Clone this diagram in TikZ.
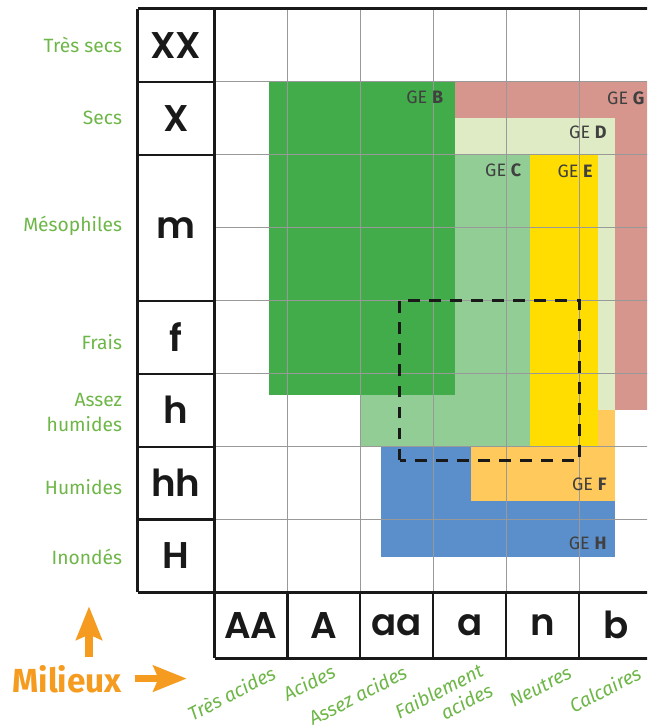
\documentclass[tikz,border=0pt]{standalone}
\usepackage{fontspec}
\setmainfont{Fira Sans}
\newfontfamily\lettrefont{Poppins SemiBold}
\usetikzlibrary{arrows.meta}

\definecolor{vertB}{RGB}{66,171,74}
\definecolor{vertC}{RGB}{145,205,148}
\definecolor{vertD}{RGB}{222,235,196}
\definecolor{jauneE}{RGB}{255,221,0}
\definecolor{orangeF}{RGB}{255,201,91}
\definecolor{roseG}{RGB}{214,150,141}
\definecolor{bleuH}{RGB}{91,143,203}
\definecolor{vertTexte}{RGB}{110,182,72}
\definecolor{orangeM}{RGB}{245,155,31}
\definecolor{grisGE}{RGB}{64,64,64}

\tikzset{
  grille/.style={draw=black!40, line width=0.6pt},
  cadre/.style={draw=black!90, line width=1.2pt},
  separ/.style={draw=black!90, line width=0.8pt},
  lettre/.style={font=\lettrefont\fontsize{14.5}{16}\selectfont, text=black!90},
  nomvert/.style={text=vertTexte, font=\fontsize{7.5}{9.6}\selectfont, align=right, anchor=east, inner sep=0pt},
  nomsol/.style={text=vertTexte, font=\itshape\fontsize{7.5}{8.4}\selectfont, align=right, anchor=east, inner sep=0pt, rotate=27},
  ge/.style={text=grisGE, font=\fontsize{7}{8}\selectfont, anchor=east, inner sep=0pt},
  fleche/.style={draw=orangeM, line width=2.9pt, -{Stealth[length=13pt,width=10pt,inset=2pt]}}
}

\begin{document}
\begin{tikzpicture}
    \useasboundingbox (-2.94,-1.83) rectangle (5.93,8.12);
    \clip (-2.94,-1.83) rectangle (5.93,8.12);

    %% Groupes ecologiques
    \fill[bleuH]   (2.28,0.48) rectangle (5.49,2);
    \fill[orangeF] (3.51,1.25) rectangle (5.49,2.5);
    \fill[roseG]   (3.29,2.5) rectangle (6.5,7);
    \fill[vertD]   (3.29,2.5) rectangle (5.49,6.5);
    \fill[vertC]   (2,2) rectangle (4.32,6);
    \fill[jauneE]  (4.32,2) rectangle (5.26,6);
    \fill[vertB]   (0.75,2.71) rectangle (3.29,7);

    %% Grille
    \draw[grille] (1,0) -- (1,8);
    \draw[grille] (2,0) -- (2,8);
    \draw[grille] (3,0) -- (3,8);
    \draw[grille] (4,0) -- (4,8);
    \draw[grille] (5,0) -- (5,8);
    \draw[grille] (6,0) -- (6,8);
    \draw[grille] (0,1) -- (6.5,1);
    \draw[grille] (0,2) -- (6.5,2);
    \draw[grille] (0,3) -- (6.5,3);
    \draw[grille] (0,4) -- (6.5,4);
    \draw[grille] (0,5) -- (6.5,5);
    \draw[grille] (0,6) -- (6.5,6);
    \draw[grille] (0,7) -- (6.5,7);

    %% Zone en pointilles
    \draw[black!90, line width=1.2pt, dash pattern=on 4.6pt off 3.6pt] (2.54,1.81) rectangle (5,4);

    %% Cadres
    \draw[cadre] (-1.05,8) -- (6.5,8);
    \draw[cadre] (-1.05,0) -- (6.5,0);
    \draw[cadre] (-1.05,0) -- (-1.05,8);
    \draw[cadre] (0,-0.9) -- (0,8);
    \draw[cadre] (0,-0.9) -- (6.5,-0.9);
    \draw[separ] (-1.05,1) -- (0,1);
    \draw[separ] (-1.05,2) -- (0,2);
    \draw[separ] (-1.05,3) -- (0,3);
    \draw[separ] (-1.05,4) -- (0,4);
    \draw[separ] (-1.05,6) -- (0,6);
    \draw[separ] (-1.05,7) -- (0,7);
    \draw[separ] (1,-0.9) -- (1,0);
    \draw[separ] (2,-0.9) -- (2,0);
    \draw[separ] (3,-0.9) -- (3,0);
    \draw[separ] (4,-0.9) -- (4,0);
    \draw[separ] (5,-0.9) -- (5,0);
    \draw[separ] (6,-0.9) -- (6,0);

    %% Humidite
    \node[lettre] (XX) at (-0.53,7.5) {XX};
    \node[lettre] (X)  at (-0.53,6.5) {X};
    \node[lettre] (m)  at (-0.53,5)   {m};
    \node[lettre] (f)  at (-0.53,3.5) {f};
    \node[lettre] (h)  at (-0.53,2.5) {h};
    \node[lettre] (hh) at (-0.53,1.5) {hh};
    \node[lettre] (H)  at (-0.53,0.5) {H};

    \node[nomvert] (tressecs)   at (-1.26,7.5)  {Très secs};
    \node[nomvert] (secs)       at (-1.26,6.5)  {Secs};
    \node[nomvert] (mesophiles) at (-1.26,5.03) {Mésophiles};
    \node[nomvert] (frais)      at (-1.26,3.43) {Frais};
    \node[nomvert] (asshumides) at (-1.26,2.47) {Assez\\humides};
    \node[nomvert] (humides)    at (-1.26,1.44) {Humides};
    \node[nomvert] (inondes)    at (-1.26,0.49) {Inondés};

    %% Acidite
    \node[lettre] (AA) at (0.5,-0.45) {AA};
    \node[lettre] (A)  at (1.5,-0.45) {A};
    \node[lettre] (aa) at (2.5,-0.45) {aa};
    \node[lettre] (a)  at (3.5,-0.45) {a};
    \node[lettre] (n)  at (4.5,-0.45) {n};
    \node[lettre] (b)  at (5.5,-0.45) {b};

    \node[nomsol] (tresacides)  at (0.82,-1.08) {Très acides};
    \node[nomsol] (acides)      at (1.64,-1.06) {Acides};
    \node[nomsol] (assacides)   at (2.62,-1.07) {Assez acides};
    \node[nomsol] (faiblement)  at (3.73,-1.18) {Faiblement\\acides};
    \node[nomsol] (neutres)     at (4.88,-1.08) {Neutres};
    \node[nomsol] (calcaires)   at (5.83,-1.08) {Calcaires};

    %% Etiquettes GE
    \node[ge] (geB) at (3.14,6.78) {GE \textbf{B}};
    \node[ge] (geG) at (5.90,6.77) {GE \textbf{G}};
    \node[ge] (geD) at (5.38,6.30) {GE \textbf{D}};
    \node[ge] (geC) at (4.21,5.79) {GE \textbf{C}};
    \node[ge] (geE) at (5.19,5.77) {GE \textbf{E}};
    \node[ge] (geF) at (5.38,1.48) {GE \textbf{F}};
    \node[ge] (geH) at (5.38,0.68) {GE \textbf{H}};

    %% Milieux
    \node[text=orangeM, font=\bfseries\fontsize{13}{15}\selectfont] (milieux) at (-2.02,-1.19) {Milieux};
    \coordinate (basehaut)   at (-1.72,-0.89);
    \coordinate (pointehaut) at (-1.72,-0.19);
    \coordinate (basedroite)   at (-1.09,-1.18);
    \coordinate (pointedroite) at (-0.38,-1.18);
    \draw[fleche] (basehaut) -- (pointehaut);
    \draw[fleche] (basedroite) -- (pointedroite);

\end{tikzpicture}
\end{document}
